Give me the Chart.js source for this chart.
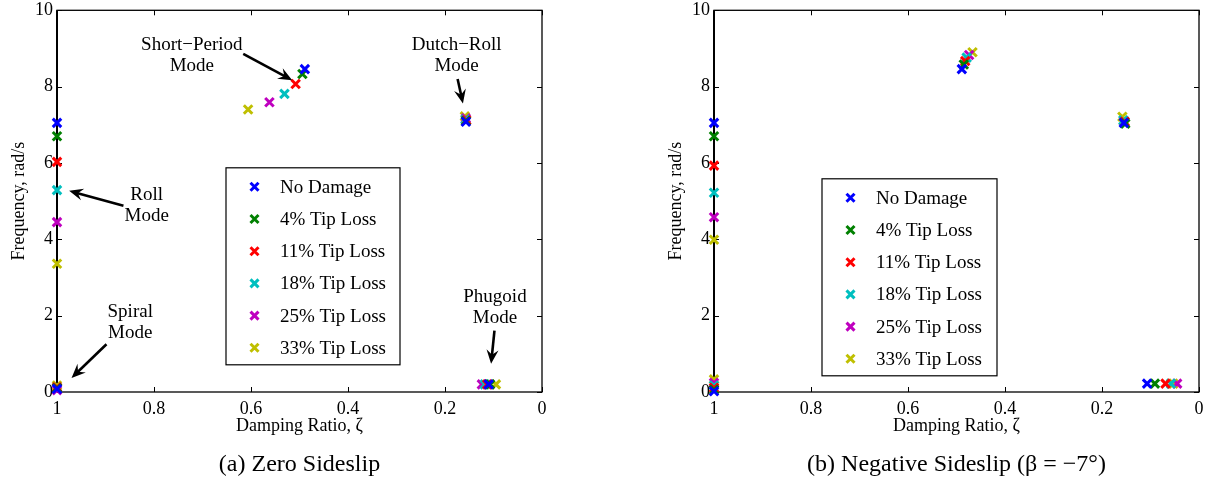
<!DOCTYPE html>
<html>
<head>
<meta charset="utf-8">
<script src="https://cdn.jsdelivr.net/npm/chart.js@4.4.0/dist/chart.umd.min.js"></script>
<style>
  body { margin: 0; background: #fff; }
  #wrap { position: relative; width: 1217px; height: 487px; }
  canvas { position: absolute; top: 0; }
  #zero { left: 0; }
  #neg { left: 608px; }
</style>
</head>
<body>
<div id="wrap">
  <canvas id="zero" width="608" height="487"></canvas>
  <canvas id="neg" width="609" height="487"></canvas>
</div>
<script>
const seriesNames = ['No Damage', '4% Tip Loss', '11% Tip Loss', '18% Tip Loss', '25% Tip Loss', '33% Tip Loss'];
const seriesColors = ['#0000ff', '#008000', '#ff0000', '#00bfbf', '#bf00bf', '#bfbf00'];

// one row per damage case, columns: roll, spiral, short-period, dutch-roll, phugoid
const zeroZeta = [
  [1, 1, 0.489, 0.157, 0.110],
  [1, 1, 0.494, 0.157, 0.107],
  [1, 1, 0.508, 0.156, 0.113],
  [1, 1, 0.531, 0.158, 0.118],
  [1, 1, 0.562, 0.157, 0.124],
  [1, 1, 0.606, 0.159, 0.095]
];
const zeroFreq = [
  [7.05, 0.08, 8.46, 7.08, 0.20],
  [6.70, 0.10, 8.33, 7.10, 0.20],
  [6.03, 0.12, 8.07, 7.12, 0.20],
  [5.29, 0.11, 7.81, 7.14, 0.20],
  [4.45, 0.05, 7.59, 7.17, 0.20],
  [3.36, 0.17, 7.40, 7.22, 0.20]
];

const negZeta = [
  [1, 1, 0.489, 0.155, 0.107],
  [1, 1, 0.485, 0.152, 0.091],
  [1, 1, 0.482, 0.153, 0.069],
  [1, 1, 0.479, 0.156, 0.058],
  [1, 1, 0.474, 0.155, 0.045],
  [1, 1, 0.467, 0.158, 0.053]
];
const negFreq = [
  [7.05, 0.02, 8.46, 7.05, 0.22],
  [6.70, 0.06, 8.58, 7.03, 0.22],
  [5.93, 0.11, 8.67, 7.08, 0.22],
  [5.22, 0.17, 8.76, 7.12, 0.22],
  [4.58, 0.24, 8.83, 7.10, 0.22],
  [3.99, 0.33, 8.90, 7.21, 0.22]
];

const zetaTicks = [0, 0.2, 0.4, 0.6, 0.8, 1];
const freqTicks = [0, 2, 4, 6, 8, 10];

// mode labels: text centre, arrow tail and arrow tip, all in (zeta, freq)
const zeroNotes = [
  { text: ['Short\u2212Period', 'Mode'], at: [0.722, 9.09], from: [0.616, 8.86], to: [0.515, 8.17] },
  { text: ['Dutch\u2212Roll', 'Mode'], at: [0.176, 9.09], from: [0.174, 8.20], to: [0.163, 7.56] },
  { text: ['Roll', 'Mode'], at: [0.815, 5.15], from: [0.863, 4.88], to: [0.975, 5.27] },
  { text: ['Spiral', 'Mode'], at: [0.849, 2.09], from: [0.898, 1.25], to: [0.970, 0.37] },
  { text: ['Phugoid', 'Mode'], at: [0.097, 2.49], from: [0.098, 1.61], to: [0.105, 0.74] }
];

const serif = 'Liberation Serif';

// box frame plus inward ticks on all four sides
const framePlugin = {
  id: 'frame',
  beforeDatasetsDraw(chart) {
    const { ctx, chartArea: a, scales: { x, y } } = chart;
    ctx.save();
    ctx.strokeStyle = '#000';
    ctx.lineWidth = 1.3;
    ctx.strokeRect(a.left, a.top, a.right - a.left, a.bottom - a.top);
    ctx.lineWidth = 1;
    ctx.beginPath();
    zetaTicks.forEach(v => {
      const px = Math.round(x.getPixelForValue(v)) + 0.5;
      ctx.moveTo(px, a.bottom); ctx.lineTo(px, a.bottom - 5);
      ctx.moveTo(px, a.top); ctx.lineTo(px, a.top + 5);
    });
    freqTicks.forEach(v => {
      const py = Math.round(y.getPixelForValue(v)) + 0.5;
      ctx.moveTo(a.left, py); ctx.lineTo(a.left + 5, py);
      ctx.moveTo(a.right, py); ctx.lineTo(a.right - 5, py);
    });
    ctx.stroke();
    // slightly heavier left axis
    ctx.lineWidth = 2;
    ctx.beginPath();
    ctx.moveTo(a.left, a.top); ctx.lineTo(a.left, a.bottom);
    ctx.stroke();
    ctx.restore();
  }
};

function drawCross(ctx, cx, cy, color) {
  const r = 4;
  ctx.strokeStyle = color;
  ctx.lineWidth = 3;
  ctx.beginPath();
  ctx.moveTo(cx - r, cy - r); ctx.lineTo(cx + r, cy + r);
  ctx.moveTo(cx - r, cy + r); ctx.lineTo(cx + r, cy - r);
  ctx.stroke();
}

// boxed legend placed inside the plot
const legendPlugin = {
  id: 'boxLegend',
  afterDatasetsDraw(chart, args, opts) {
    const { ctx, chartArea: a } = chart;
    const left = a.left + opts.left, top = a.top + opts.top;
    ctx.save();
    ctx.fillStyle = '#fff';
    ctx.fillRect(left, top, opts.width, opts.height);
    ctx.strokeStyle = '#000';
    ctx.lineWidth = 1.2;
    ctx.strokeRect(left, top, opts.width, opts.height);
    ctx.font = '19px "' + serif + '"';
    ctx.textBaseline = 'middle';
    ctx.textAlign = 'left';
    chart.data.datasets.forEach((ds, i) => {
      const rowY = top + 19 + i * 32.2;
      drawCross(ctx, left + 28.5, rowY, ds.borderColor);
      ctx.fillStyle = '#000';
      ctx.fillText(ds.label, left + 54, rowY + 1);
    });
    ctx.restore();
  }
};

function drawArrow(ctx, x0, y0, x1, y1) {
  const ang = Math.atan2(y1 - y0, x1 - x0);
  const len = 14, half = 6;
  const bx = x1 - Math.cos(ang) * len, by = y1 - Math.sin(ang) * len;
  ctx.lineWidth = 2.6;
  ctx.beginPath();
  ctx.moveTo(x0, y0);
  ctx.lineTo(x1 - Math.cos(ang) * 6, y1 - Math.sin(ang) * 6);
  ctx.stroke();
  ctx.beginPath();
  ctx.moveTo(x1, y1);
  ctx.lineTo(bx - Math.sin(ang) * half, by + Math.cos(ang) * half);
  ctx.lineTo(x1 - Math.cos(ang) * 9, y1 - Math.sin(ang) * 9);
  ctx.lineTo(bx + Math.sin(ang) * half, by - Math.cos(ang) * half);
  ctx.closePath();
  ctx.fill();
}

const notesPlugin = {
  id: 'modeNotes',
  afterDatasetsDraw(chart, args, opts) {
    const { ctx, scales: { x, y } } = chart;
    ctx.save();
    ctx.fillStyle = '#000';
    ctx.strokeStyle = '#000';
    ctx.font = '19px "' + serif + '"';
    ctx.textAlign = 'center';
    ctx.textBaseline = 'middle';
    (opts.notes || []).forEach(n => {
      const tx = x.getPixelForValue(n.at[0]), ty = y.getPixelForValue(n.at[1]);
      n.text.forEach((line, k) => ctx.fillText(line, tx, ty + k * 21));
      drawArrow(ctx, x.getPixelForValue(n.from[0]), y.getPixelForValue(n.from[1]),
        x.getPixelForValue(n.to[0]), y.getPixelForValue(n.to[1]));
    });
    ctx.restore();
  }
};

function makeChart(id, zeta, freq, notes, legendBox, caption, padLeft, padRight) {
  const titleFont = { family: serif, size: 18 };
  return new Chart(document.getElementById(id), {
    type: 'scatter',
    data: {
      datasets: seriesNames.map((name, i) => ({
        label: name,
        data: zeta[i].map((z, k) => ({ x: z, y: freq[i][k] })),
        borderColor: seriesColors[i],
        backgroundColor: seriesColors[i],
        pointStyle: 'crossRot',
        pointRadius: 6,
        pointHoverRadius: 6,
        pointBorderWidth: 3,
        clip: false
      }))
    },
    options: {
      responsive: false,
      animation: false,
      events: [],
      layout: { padding: { left: padLeft, right: padRight, top: 9.5, bottom: 0 } },
      scales: {
        x: {
          type: 'linear',
          reverse: true,
          min: 0,
          max: 1,
          afterBuildTicks: s => { s.ticks = zetaTicks.map(v => ({ value: v })); },
          afterFit: s => { s.height = 58.6; },
          ticks: { font: { family: serif, size: 18, lineHeight: 1 }, color: '#000', padding: 8, maxRotation: 0, callback: v => String(v) },
          grid: { display: false, drawTicks: false },
          border: { display: false },
          title: { display: true, text: 'Damping Ratio, \u03b6', font: titleFont, color: '#000', padding: { top: 0, bottom: 14 } }
        },
        y: {
          min: 0,
          max: 10,
          afterBuildTicks: s => { s.ticks = freqTicks.map(v => ({ value: v })); },
          afterFit: s => { s.width = 57; },
          ticks: { font: { family: serif, size: 18, lineHeight: 0.7 }, color: '#000', padding: 4 },
          grid: { display: false, drawTicks: false },
          border: { display: false },
          title: { display: true, text: 'Frequency, rad/s', font: titleFont, color: '#000', padding: { top: 8, bottom: 0 } }
        }
      },
      plugins: {
        legend: { display: false },
        tooltip: { enabled: false },
        title: {
          display: true,
          position: 'bottom',
          fullSize: false,
          text: caption,
          color: '#000',
          font: { family: serif, size: 24, weight: 'normal' },
          padding: { top: 0, bottom: 7.6 }
        },
        boxLegend: legendBox,
        modeNotes: { notes: notes }
      }
    },
    plugins: [framePlugin, legendPlugin, notesPlugin]
  });
}

makeChart('zero', zeroZeta, zeroFreq, zeroNotes,
  { left: 169, top: 157.5, width: 174, height: 197 },
  '(a) Zero Sideslip', 0, 66);
makeChart('neg', negZeta, negFreq, [],
  { left: 108, top: 168.5, width: 175, height: 197 },
  '(b) Negative Sideslip (\u03b2 = \u22127\u00b0)', 49, 18);
</script>
</body>
</html>
